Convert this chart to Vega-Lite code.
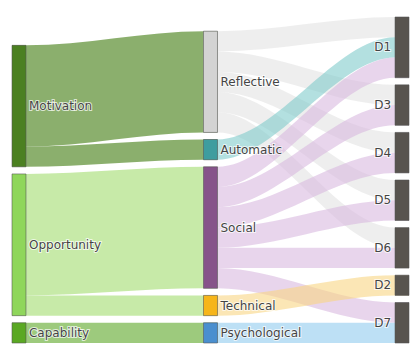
{
  "$schema": "https://vega.github.io/schema/vega-lite/v6.json",
  "autosize": {"type": "none"},
  "width": 397,
  "height": 326,
  "padding": {"left": 12, "top": 17, "right": 6, "bottom": 15},
  "background": "white",
  "config": {"view": {"stroke": null}},
  "datasets": {
    "nodes": [
      {"name": "Motivation", "col": 0, "ord": 0},
      {"name": "Opportunity", "col": 0, "ord": 1},
      {"name": "Capability", "col": 0, "ord": 2},
      {"name": "Reflective", "col": 1, "ord": 0},
      {"name": "Automatic", "col": 1, "ord": 1},
      {"name": "Social", "col": 1, "ord": 2},
      {"name": "Technical", "col": 1, "ord": 3},
      {"name": "Psychological", "col": 1, "ord": 4},
      {"name": "D1", "col": 2, "ord": 0},
      {"name": "D3", "col": 2, "ord": 1},
      {"name": "D4", "col": 2, "ord": 2},
      {"name": "D5", "col": 2, "ord": 3},
      {"name": "D6", "col": 2, "ord": 4},
      {"name": "D2", "col": 2, "ord": 5},
      {"name": "D7", "col": 2, "ord": 6}
    ],
    "links": [
      {"source": "Motivation", "target": "Reflective", "value": 5},
      {"source": "Motivation", "target": "Automatic", "value": 1},
      {"source": "Opportunity", "target": "Social", "value": 6},
      {"source": "Opportunity", "target": "Technical", "value": 1},
      {"source": "Capability", "target": "Psychological", "value": 1},
      {"source": "Reflective", "target": "D1", "value": 1},
      {"source": "Reflective", "target": "D3", "value": 1},
      {"source": "Reflective", "target": "D4", "value": 1},
      {"source": "Reflective", "target": "D5", "value": 1},
      {"source": "Reflective", "target": "D6", "value": 1},
      {"source": "Automatic", "target": "D1", "value": 1},
      {"source": "Social", "target": "D1", "value": 1},
      {"source": "Social", "target": "D3", "value": 1},
      {"source": "Social", "target": "D4", "value": 1},
      {"source": "Social", "target": "D5", "value": 1},
      {"source": "Social", "target": "D6", "value": 1},
      {"source": "Social", "target": "D7", "value": 1},
      {"source": "Technical", "target": "D2", "value": 1},
      {"source": "Psychological", "target": "D7", "value": 1}
    ]
  },
  "data": {"name": "links"},
  "transform": [
    {"lookup": "source", "from": {"data": {"name": "nodes"}, "key": "name", "fields": ["col", "ord"]}, "as": ["sCol", "sOrd"]},
    {"lookup": "target", "from": {"data": {"name": "nodes"}, "key": "name", "fields": ["col", "ord"]}, "as": ["tCol", "tOrd"]},
    {"window": [{"op": "sum", "field": "value", "as": "sCum"}], "groupby": ["sCol"], "sort": [{"field": "sOrd", "order": "ascending"}, {"field": "tOrd", "order": "ascending"}], "frame": [null, 0]},
    {"window": [{"op": "dense_rank", "as": "sRank"}], "groupby": ["sCol"], "sort": [{"field": "sOrd", "order": "ascending"}]},
    {"window": [{"op": "sum", "field": "value", "as": "tCum"}], "groupby": ["tCol"], "sort": [{"field": "tOrd", "order": "ascending"}, {"field": "sOrd", "order": "ascending"}], "frame": [null, 0]},
    {"window": [{"op": "dense_rank", "as": "tRank"}], "groupby": ["tCol"], "sort": [{"field": "tOrd", "order": "ascending"}]},
    {"joinaggregate": [{"op": "distinct", "field": "source", "as": "sN"}], "groupby": ["sCol"]},
    {"joinaggregate": [{"op": "distinct", "field": "target", "as": "tN"}], "groupby": ["tCol"]},
    {"joinaggregate": [{"op": "max", "field": "tN", "as": "maxN"}]},
    {"calculate": "datum.sCum + (datum.sRank - 1) * 0.35 + (datum.maxN - datum.sN) * 0.35", "as": "sy1"},
    {"calculate": "datum.sy1 - datum.value", "as": "sy0"},
    {"calculate": "datum.tCum + (datum.tRank - 1) * 0.35 + (datum.maxN - datum.tN) * 0.35", "as": "ty1"},
    {"calculate": "datum.ty1 - datum.value", "as": "ty0"},
    {"calculate": "datum.source + '>' + datum.target", "as": "lid"}
  ],
  "layer": [
    {
      "transform": [
        {"fold": ["source", "source", "target", "target"], "as": ["role", "endName"]},
        {"window": [{"op": "row_number", "as": "k"}], "groupby": ["lid", "role"]},
        {"calculate": "datum.role == 'source' ? datum.sCol + (datum.k - 1) * 0.073 : datum.tCol + (datum.k - 1) * 0.073", "as": "lx"},
        {"calculate": "datum.role == 'source' ? datum.sy0 : datum.ty0", "as": "ly0"},
        {"calculate": "datum.role == 'source' ? datum.sy1 : datum.ty1", "as": "ly1"}
      ],
      "mark": {"type": "area", "interpolate": "monotone", "opacity": 0.6, "orient": "vertical"},
      "encoding": {
        "x": {"field": "lx", "type": "quantitative", "scale": {"domain": [0, 2.073], "nice": false, "zero": false}, "axis": null},
        "y": {"field": "ly0", "type": "quantitative", "stack": null, "scale": {"domain": [0, 16.1], "nice": false, "zero": false, "reverse": true}, "axis": null},
        "y2": {"field": "ly1"},
        "detail": {"field": "lid", "type": "nominal"},
        "color": {
          "field": "source", "type": "nominal", "legend": null,
          "scale": {
            "domain": ["Motivation", "Opportunity", "Capability", "Reflective", "Automatic", "Social", "Technical", "Psychological"],
            "range": ["#3d7a0c", "#a2dc6e", "#5ba726", "#e2e2e2", "#80cbcb", "#d9b9df", "#f8d584", "#91cbee"]
          }
        }
      }
    },
    {
      "transform": [
        {"fold": ["source", "target"], "as": ["role", "name"]},
        {"calculate": "datum.role == 'source' ? datum.sCol : datum.tCol", "as": "col"},
        {"calculate": "datum.role == 'source' ? datum.sy0 : datum.ty0", "as": "ny0"},
        {"calculate": "datum.role == 'source' ? datum.sy1 : datum.ty1", "as": "ny1"},
        {"aggregate": [{"op": "min", "field": "ny0", "as": "y0"}, {"op": "max", "field": "ny1", "as": "y1"}], "groupby": ["name", "col"]},
        {"calculate": "datum.col + 0.073", "as": "xr"},
        {"calculate": "(datum.y0 + datum.y1) / 2", "as": "ym"}
      ],
      "layer": [
        {
          "mark": {"type": "rect", "stroke": "#555555", "strokeWidth": 0.7, "strokeOpacity": 0.8},
          "encoding": {
            "x": {"field": "col", "type": "quantitative"},
            "x2": {"field": "xr"},
            "y": {"field": "y0", "type": "quantitative"},
            "y2": {"field": "y1"},
            "color": {
              "field": "name", "type": "nominal", "legend": null,
              "scale": {
                "domain": ["Motivation", "Opportunity", "Capability", "Reflective", "Automatic", "Social", "Technical", "Psychological", "D1", "D2", "D3", "D4", "D5", "D6", "D7"],
                "range": ["#4b8021", "#8fd65b", "#5aa823", "#d3d3d3", "#3e9d9f", "#86538a", "#f6b51a", "#4a8fcf", "#58544f", "#58544f", "#58544f", "#58544f", "#58544f", "#58544f", "#58544f"]
              }
            }
          }
        },
        {
          "transform": [{"filter": "datum.col < 2"}],
          "mark": {"type": "text", "align": "left", "baseline": "middle", "dx": 3, "font": "DejaVu Sans", "fontSize": 12, "stroke": "white", "strokeWidth": 2, "strokeOpacity": 0.7, "fill": "white"},
          "encoding": {
            "x": {"field": "xr", "type": "quantitative"},
            "y": {"field": "ym", "type": "quantitative"},
            "text": {"field": "name"}
          }
        },
        {
          "transform": [{"filter": "datum.col < 2"}],
          "mark": {"type": "text", "align": "left", "baseline": "middle", "dx": 3, "font": "DejaVu Sans", "fontSize": 12, "fill": "#444444"},
          "encoding": {
            "x": {"field": "xr", "type": "quantitative"},
            "y": {"field": "ym", "type": "quantitative"},
            "text": {"field": "name"}
          }
        },
        {
          "transform": [{"filter": "datum.col == 2"}],
          "mark": {"type": "text", "align": "right", "baseline": "middle", "dx": -4, "font": "DejaVu Sans", "fontSize": 12, "stroke": "white", "strokeWidth": 2, "strokeOpacity": 0.7, "fill": "white"},
          "encoding": {
            "x": {"field": "col", "type": "quantitative"},
            "y": {"field": "ym", "type": "quantitative"},
            "text": {"field": "name"}
          }
        },
        {
          "transform": [{"filter": "datum.col == 2"}],
          "mark": {"type": "text", "align": "right", "baseline": "middle", "dx": -4, "font": "DejaVu Sans", "fontSize": 12, "fill": "#444444"},
          "encoding": {
            "x": {"field": "col", "type": "quantitative"},
            "y": {"field": "ym", "type": "quantitative"},
            "text": {"field": "name"}
          }
        }
      ],
      "resolve": {"scale": {"color": "independent"}}
    }
  ],
  "resolve": {"scale": {"color": "independent"}}
}
